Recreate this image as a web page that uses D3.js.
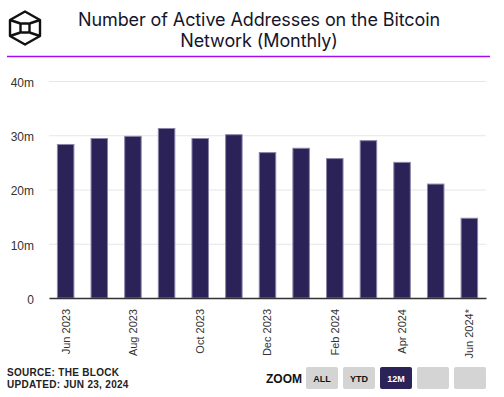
<!DOCTYPE html>
<html>
<head>
<meta charset="utf-8">
<script src="https://cdn.jsdelivr.net/npm/d3@7"></script>
<style>
  body { margin: 0; background: #fff; }
  svg { display: block; font-family: "Liberation Sans", Arial, sans-serif; }
</style>
</head>
<body>
<div id="chart"></div>
<script>
const width = 504;
const height = 397;

// data (millions)
const months = ["Jun 2023", "Jul 2023", "Aug 2023", "Sep 2023", "Oct 2023", "Nov 2023", "Dec 2023",
  "Jan 2024", "Feb 2024", "Mar 2024", "Apr 2024", "May 2024", "Jun 2024*"];
const activeAddresses = [28.3, 29.4, 29.8, 31.25, 29.4, 30.1, 26.8, 27.6, 25.7, 29.0, 25.0, 21.0, 14.7];
const yTicks = [0, 10, 20, 30, 40];
const xTickLabels = ["Jun 2023", "Aug 2023", "Oct 2023", "Dec 2023", "Feb 2024", "Apr 2024", "Jun 2024*"];
const zoomButtons = ["ALL", "YTD", "12M", "", ""];
const titleLines = ["Number of Active Addresses on the Bitcoin", "Network (Monthly)"];

const margin = { top: 81, right: 18, bottom: 99, left: 49 };

const svg = d3.select("#chart").append("svg").attr("width", width).attr("height", height);

// logo
const logo = svg.append("g").attr("fill", "none").attr("stroke", "#111").attr("stroke-width", 2.4)
  .attr("stroke-linejoin", "round");
const hex = [[25, 11.5], [40, 20], [40, 36], [25, 44.5], [10, 36], [10, 20]];
logo.append("path").attr("d", d3.line()(hex) + "Z");
logo.append("rect").attr("x", 20.5).attr("y", 23.5).attr("width", 9).attr("height", 9).attr("rx", 1.5);
logo.append("path").attr("d", "M10,20L20.5,23.5M40,20L29.5,23.5M10,36L20.5,32.5M40,36L29.5,32.5");

// title
svg.append("g")
  .selectAll("text")
  .data(titleLines)
  .join("text")
  .attr("x", 259)
  .attr("y", (d, i) => 26 + i * 21)
  .attr("text-anchor", "middle")
  .attr("fill", "#15152b")
  .style("font-family", "Inter, 'Open Sans', sans-serif")
  .style("font-size", "18px")
  .style("letter-spacing", "-0.1px")
  .text((d) => d);

svg.append("line")
  .attr("x1", 7).attr("x2", 490).attr("y1", 56.5).attr("y2", 56.5)
  .attr("stroke", "#a10cf2").attr("stroke-width", 1.5);

// scales
const x = d3.scaleBand()
  .domain(months)
  .range([margin.left, width - margin.right])
  .paddingInner(0.51)
  .paddingOuter(0.25);

const y = d3.scaleLinear()
  .domain([0, 40])
  .range([height - margin.bottom, margin.top]);

// grid + y labels
const yAxis = d3.axisLeft(y)
  .tickValues(yTicks)
  .tickSize(-(width - margin.left - margin.right))
  .tickPadding(15)
  .tickFormat((d) => (d === 0 ? "0" : d + "m"));

svg.append("g")
  .attr("transform", `translate(${margin.left},0)`)
  .call(yAxis)
  .call((g) => g.select(".domain").remove())
  .call((g) => g.selectAll(".tick line").attr("stroke", "#e6e6e6"))
  .call((g) => g.selectAll(".tick text")
    .attr("fill", "#333")
    .attr("dy", "0.45em")
    .style("font-size", "12px"));

// bars
svg.append("g")
  .selectAll("rect")
  .data(activeAddresses)
  .join("rect")
  .attr("x", (d, i) => x(months[i]))
  .attr("y", (d) => y(d))
  .attr("width", x.bandwidth())
  .attr("height", (d) => y(0) - y(d))
  .attr("fill", "#2b2358")
  .attr("stroke", "#8a84a8")
  .attr("stroke-width", 1);

// x axis
const xAxis = d3.axisBottom(x)
  .tickValues(xTickLabels)
  .tickSize(0)
  .tickPadding(0);

svg.append("g")
  .attr("transform", `translate(0,${y(0)})`)
  .call(xAxis)
  .call((g) => g.select(".domain").attr("stroke", "#333").attr("stroke-width", 1.5))
  .call((g) => g.selectAll(".tick text")
    .attr("transform", "rotate(-90)")
    .attr("text-anchor", "end")
    .attr("x", -11)
    .attr("y", 0)
    .attr("dy", "0.35em")
    .attr("fill", "#333")
    .style("font-size", "11px"));

// footer
svg.append("g")
  .selectAll("text")
  .data(["SOURCE: THE BLOCK", "UPDATED: JUN 23, 2024"])
  .join("text")
  .attr("x", 7)
  .attr("y", (d, i) => 376 + i * 12)
  .attr("fill", "#222")
  .style("font-size", "10px")
  .style("font-weight", "bold")
  .style("letter-spacing", "0.3px")
  .text((d) => d);

svg.append("text")
  .attr("x", 266)
  .attr("y", 382.5)
  .attr("fill", "#111")
  .style("font-size", "12px")
  .style("font-weight", "bold")
  .text("ZOOM");

const btn = svg.append("g")
  .selectAll("g")
  .data(zoomButtons)
  .join("g")
  .attr("transform", (d, i) => `translate(${306 + i * 37},367)`);

btn.append("rect")
  .attr("width", 32)
  .attr("height", 22)
  .attr("rx", 2)
  .attr("fill", (d) => (d === "12M" ? "#2b2358" : "#d4d4d4"));

btn.append("text")
  .attr("x", 16)
  .attr("y", 15)
  .attr("text-anchor", "middle")
  .attr("fill", (d) => (d === "12M" ? "#fff" : "#111"))
  .style("font-size", "9px")
  .style("font-weight", "bold")
  .text((d) => d);
</script>
</body>
</html>
